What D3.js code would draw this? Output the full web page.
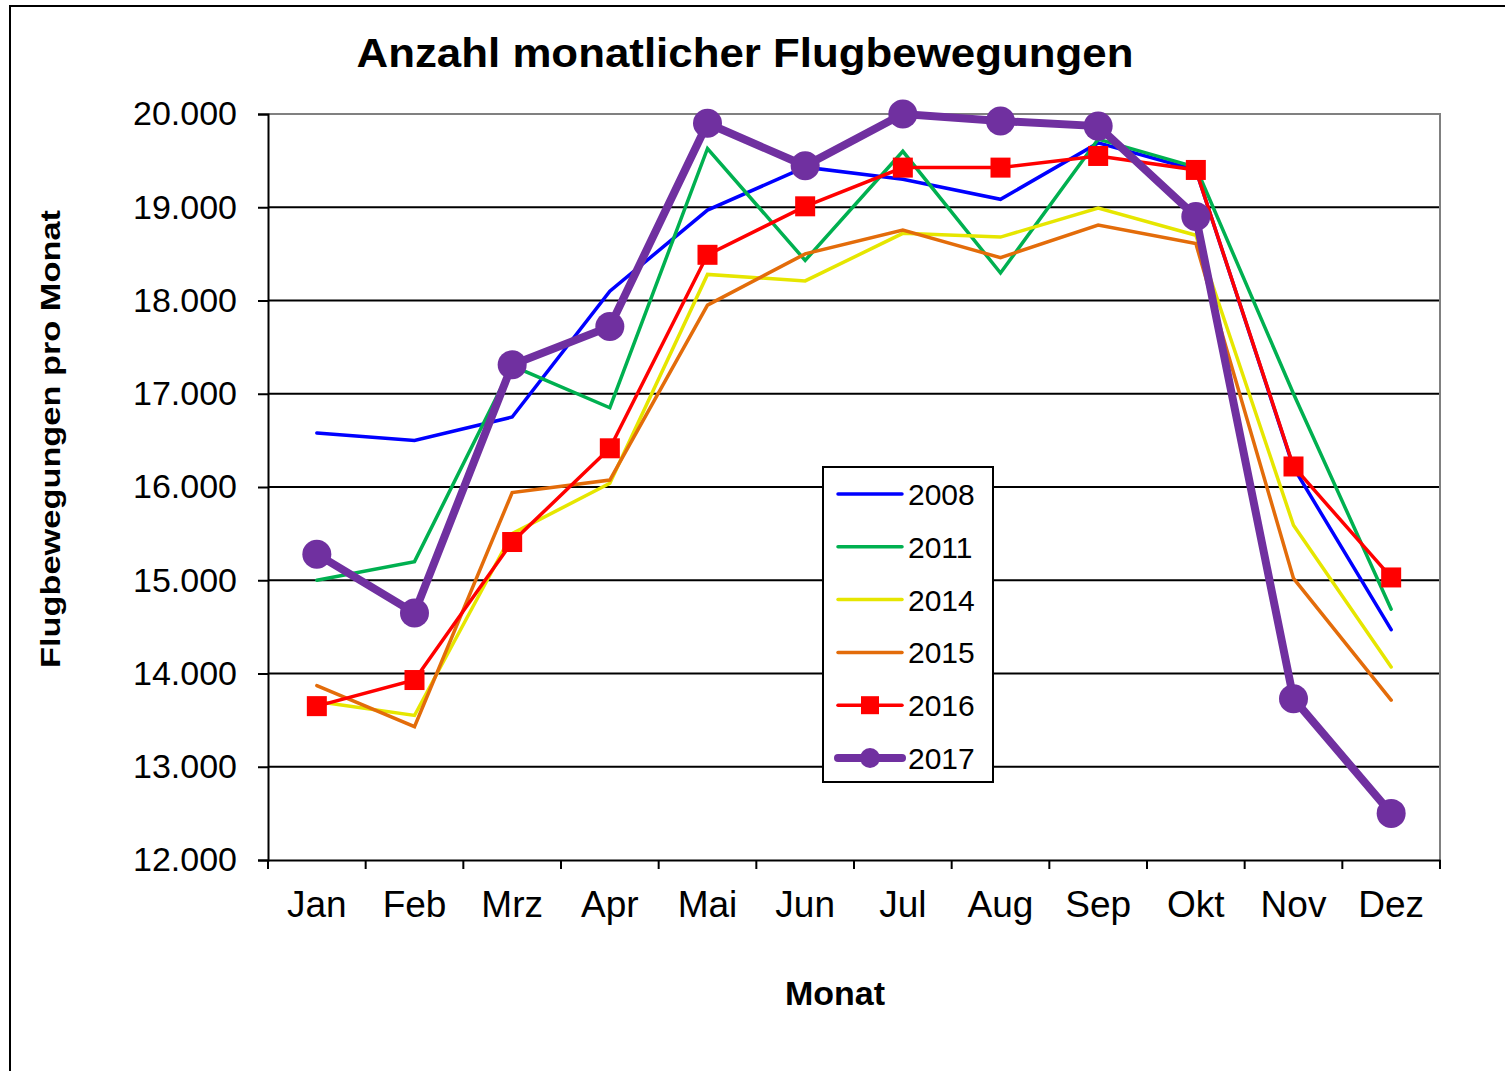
<!DOCTYPE html>
<html><head><meta charset="utf-8">
<script src="https://cdn.jsdelivr.net/npm/d3@7"></script>
<style>body{margin:0;background:#fff}svg{display:block}text{font-family:"Liberation Sans",Arial,sans-serif}</style>
</head><body>
<svg id="c" width="1505" height="1071"></svg>
<script>
const months = ["Jan","Feb","Mrz","Apr","Mai","Jun","Jul","Aug","Sep","Okt","Nov","Dez"];
const yTicks = [12000,13000,14000,15000,16000,17000,18000,19000,20000];
const s2008 = [16580,16500,16750,18100,18970,19430,19300,19085,19690,19400,16210,14470];
const s2011 = [15000,15200,17300,16850,19630,18430,19600,18295,19730,19430,17000,14690];
const s2014 = [13700,13550,15500,16040,18280,18210,18720,18680,18990,18700,15590,14070];
const s2015 = [13870,13430,15940,16075,17950,18500,18755,18460,18810,18610,15020,13715];
const s2016 = [13650,13930,15410,16415,18490,19010,19425,19425,19550,19400,16220,15030];
const s2017 = [15280,14650,17310,17720,19900,19445,20000,19925,19870,18900,13730,12500];
const seriesNames = ["2008","2011","2014","2015","2016","2017"];
const seriesData = [s2008,s2011,s2014,s2015,s2016,s2017];
const colors = ["#0000FF","#00B050","#E6E600","#E36C0A","#FF0000","#7030A0"];
const widths = [3.5,3.5,3.5,3.5,3.5,8];
const markers = ["none","none","none","none","square","circle"];

const svg = d3.select("#c");
// outer frame
svg.append("rect").attr("x",10).attr("y",6).attr("width",1500).attr("height",1100)
  .attr("fill","none").attr("stroke","#000").attr("stroke-width",2);

const L=268,R=1440,T=114,B=860;
const x = d3.scaleBand().domain(months).range([L,R]);
const y = d3.scaleLinear().domain([12000,20000]).range([B,T]);
const fmt = d => d3.format(",")(d).replace(/,/g,".");

// gridlines
svg.append("g").selectAll("line").data(yTicks.filter(d=>d>12000&&d<20000)).join("line")
  .attr("x1",L).attr("x2",R).attr("y1",d=>y(d)).attr("y2",d=>y(d))
  .attr("stroke","#000").attr("stroke-width",2);
// plot border top/right gray
svg.append("path").attr("d",`M${L},${T}H${R}V${B}`).attr("fill","none").attr("stroke","#808080").attr("stroke-width",2);

// y axis
const ya = svg.append("g").attr("transform",`translate(${L},0)`)
  .call(d3.axisLeft(y).tickValues(yTicks).tickFormat(fmt).tickSize(10).tickPadding(21));
ya.select(".domain").attr("stroke","#000").attr("stroke-width",2);
ya.selectAll(".tick line").attr("stroke","#000").attr("stroke-width",2);
ya.selectAll(".tick text").attr("font-size",34).attr("fill","#000").attr("font-family","Liberation Sans, Arial, sans-serif");

// x axis
const xa = svg.append("g").attr("transform",`translate(0,${B})`)
  .call(d3.axisBottom(x).tickSize(0).tickPadding(31));
xa.select(".domain").attr("stroke","#000").attr("stroke-width",2);
xa.selectAll(".tick text").attr("font-size",37).attr("fill","#000").attr("font-family","Liberation Sans, Arial, sans-serif");
svg.append("g").selectAll("line").data(months.concat(["end"])).join("line")
  .attr("x1",(d,i)=>L+i*x.step()).attr("x2",(d,i)=>L+i*x.step())
  .attr("y1",B).attr("y2",B+9).attr("stroke","#000").attr("stroke-width",2);

// series
const line = d3.line().x((d,i)=>x(months[i])+x.bandwidth()/2).y(d=>y(d));
seriesData.forEach((data,k)=>{
  const g = svg.append("g");
  g.append("path").datum(data).attr("d",line).attr("fill","none")
    .attr("stroke",colors[k]).attr("stroke-width",widths[k]).attr("stroke-linejoin","miter").attr("stroke-linecap","round");
  if(markers[k]==="square"){
    g.selectAll("rect").data(data).join("rect")
      .attr("x",(d,i)=>x(months[i])+x.bandwidth()/2-10).attr("y",d=>y(d)-10)
      .attr("width",20).attr("height",20).attr("fill",colors[k]);
  } else if(markers[k]==="circle"){
    g.selectAll("circle").data(data).join("circle")
      .attr("cx",(d,i)=>x(months[i])+x.bandwidth()/2).attr("cy",d=>y(d))
      .attr("r",14.5).attr("fill",colors[k]);
  }
});

// title
svg.append("text").attr("x",745).attr("y",67).attr("text-anchor","middle")
  .attr("font-size",40).attr("font-weight","bold").attr("textLength",777).attr("lengthAdjust","spacingAndGlyphs")
  .text("Anzahl monatlicher Flugbewegungen");
// axis titles
svg.append("text").attr("x",835).attr("y",1005).attr("text-anchor","middle")
  .attr("font-size",34).attr("font-weight","bold").text("Monat");
svg.append("text").attr("transform","translate(60,439) rotate(-90)").attr("text-anchor","middle")
  .attr("font-size",28).attr("font-weight","bold").attr("textLength",458).attr("lengthAdjust","spacingAndGlyphs")
  .text("Flugbewegungen pro Monat");

// legend
const lg = svg.append("g");
lg.append("rect").attr("x",823).attr("y",467).attr("width",170).attr("height",315)
  .attr("fill","#fff").attr("stroke","#000").attr("stroke-width",2);
seriesNames.forEach((n,k)=>{
  const ly = 494 + k*52.8;
  lg.append("line").attr("x1",838).attr("x2",902).attr("y1",ly).attr("y2",ly)
    .attr("stroke",colors[k]).attr("stroke-width",widths[k]).attr("stroke-linecap","round");
  if(markers[k]==="square") lg.append("rect").attr("x",861).attr("y",ly-9).attr("width",18).attr("height",18).attr("fill",colors[k]);
  if(markers[k]==="circle") lg.append("circle").attr("cx",870).attr("cy",ly).attr("r",10).attr("fill",colors[k]);
  lg.append("text").attr("x",908).attr("y",ly+11).attr("font-size",30).text(n);
});
</script>
</body></html>
